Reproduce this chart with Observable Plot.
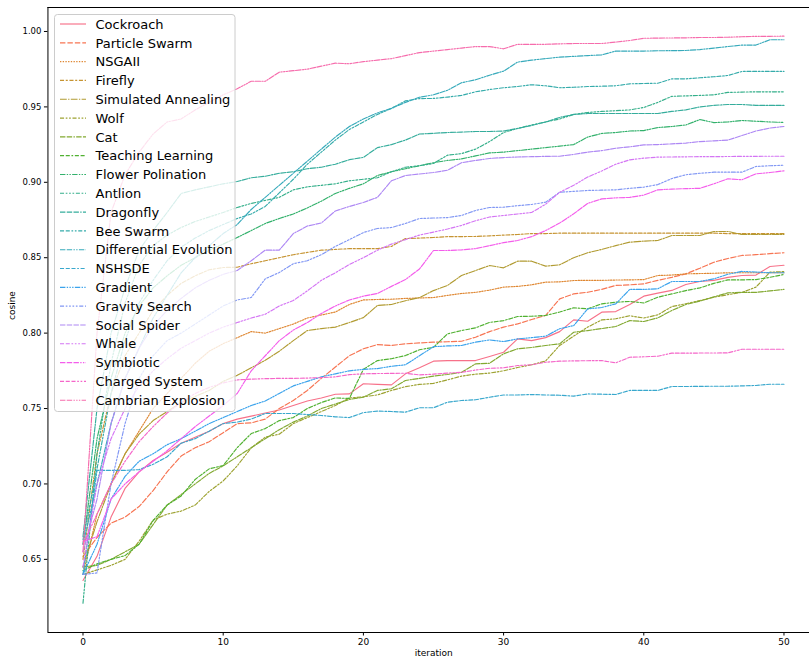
<!DOCTYPE html>
<html><head><meta charset="utf-8">
<script src="https://cdn.jsdelivr.net/npm/d3@7"></script>
<script src="https://cdn.jsdelivr.net/npm/@observablehq/plot@0.6"></script>
<style>
body{margin:0;background:#fff;}
#wrap{position:relative;width:809px;height:663px;font-family:"DejaVu Sans",sans-serif;}
#wrap svg{position:absolute;left:0;top:0;}
</style></head><body><div id="wrap"></div>
<script>
const iterations = [0,1,2,3,4,5,6,7,8,9,10,11,12,13,14,15,16,17,18,19,20,21,22,23,24,25,26,27,28,29,30,31,32,33,34,35,36,37,38,39,40,41,42,43,44,45,46,47,48,49,50];

const cockroach = [0.636,0.652,0.678,0.697,0.708,0.7155,0.721,0.727,0.731,0.735,0.740,0.743,0.745,0.747,0.749,0.752,0.755,0.757,0.7595,0.7597,0.7664,0.7660,0.7657,0.773,0.777,0.7814,0.7818,0.7818,0.7818,0.7845,0.7873,0.7962,0.795,0.797,0.801,0.8088,0.8079,0.8139,0.8143,0.819,0.8245,0.8265,0.8283,0.8322,0.8342,0.835,0.837,0.8382,0.8385,0.8442,0.845];
const particleSwarm = [0.652,0.6645,0.674,0.678,0.685,0.6956,0.708,0.7185,0.724,0.728,0.734,0.740,0.7405,0.743,0.750,0.7553,0.762,0.770,0.7775,0.785,0.7896,0.7924,0.7918,0.7929,0.7935,0.794,0.7943,0.7946,0.7973,0.801,0.804,0.8061,0.809,0.8117,0.8227,0.826,0.8271,0.829,0.8316,0.832,0.8327,0.835,0.837,0.8393,0.843,0.847,0.8495,0.8515,0.852,0.8527,0.8533];
const nsgaii = [0.640,0.680,0.700,0.720,0.735,0.750,0.760,0.770,0.780,0.788,0.793,0.797,0.801,0.800,0.803,0.806,0.810,0.812,0.814,0.819,0.822,0.8223,0.8225,0.823,0.8233,0.8236,0.825,0.8263,0.827,0.8285,0.8305,0.831,0.832,0.8338,0.834,0.8349,0.835,0.835,0.8352,0.8353,0.8355,0.8382,0.8385,0.8393,0.8395,0.8397,0.840,0.840,0.840,0.840,0.840];
const firefly = [0.650,0.720,0.760,0.785,0.800,0.815,0.825,0.833,0.838,0.842,0.8435,0.8437,0.846,0.848,0.850,0.852,0.8535,0.855,0.8555,0.856,0.856,0.856,0.8575,0.8627,0.863,0.8634,0.864,0.864,0.8641,0.8645,0.865,0.8654,0.866,0.866,0.8663,0.8663,0.8663,0.8663,0.8663,0.8663,0.8663,0.8663,0.8663,0.8663,0.8663,0.8663,0.866,0.866,0.866,0.866,0.866];
const simulatedAnnealing = [0.645,0.675,0.700,0.720,0.733,0.742,0.748,0.754,0.758,0.762,0.768,0.772,0.777,0.782,0.788,0.795,0.8017,0.803,0.804,0.807,0.8103,0.8183,0.819,0.8215,0.8236,0.8282,0.8316,0.8382,0.8415,0.8448,0.8433,0.8477,0.8477,0.8444,0.8453,0.850,0.8533,0.8555,0.858,0.8603,0.861,0.8614,0.8647,0.8647,0.8647,0.8674,0.8674,0.8654,0.8654,0.8654,0.8655];
const wolf = [0.640,0.643,0.646,0.650,0.662,0.676,0.680,0.682,0.686,0.695,0.702,0.712,0.724,0.731,0.733,0.740,0.744,0.748,0.752,0.757,0.7578,0.759,0.762,0.7645,0.766,0.7667,0.769,0.7715,0.7728,0.7735,0.775,0.7772,0.779,0.7815,0.7918,0.798,0.804,0.8088,0.8095,0.8115,0.810,0.8121,0.8176,0.8195,0.8216,0.8238,0.8255,0.827,0.8305,0.8404,0.8408];
const cat = [0.645,0.646,0.650,0.655,0.660,0.673,0.686,0.693,0.700,0.707,0.712,0.718,0.724,0.730,0.736,0.741,0.745,0.750,0.753,0.756,0.7575,0.762,0.7631,0.7686,0.770,0.7715,0.7726,0.774,0.7796,0.780,0.7863,0.7896,0.7905,0.7918,0.7929,0.8006,0.8017,0.803,0.8044,0.8083,0.8077,0.8101,0.815,0.819,0.8212,0.824,0.8267,0.827,0.827,0.828,0.829];
const teachingLearning = [0.6426,0.647,0.650,0.6525,0.660,0.6757,0.686,0.692,0.703,0.710,0.7122,0.7241,0.7334,0.7367,0.742,0.744,0.750,0.754,0.757,0.7567,0.776,0.7818,0.783,0.7851,0.789,0.7906,0.7995,0.8017,0.8035,0.8071,0.8083,0.811,0.8112,0.8117,0.814,0.8168,0.8161,0.8194,0.8205,0.821,0.820,0.8238,0.826,0.8282,0.830,0.833,0.8353,0.8353,0.8355,0.837,0.8389];
const flowerPolination = [0.660,0.730,0.770,0.800,0.818,0.830,0.838,0.845,0.850,0.855,0.859,0.8634,0.868,0.8727,0.876,0.879,0.883,0.8875,0.8926,0.896,0.899,0.9045,0.907,0.909,0.911,0.913,0.9145,0.9155,0.9175,0.9195,0.920,0.921,0.922,0.923,0.924,0.925,0.930,0.9324,0.933,0.934,0.9343,0.9363,0.937,0.938,0.9416,0.9396,0.940,0.941,0.9405,0.940,0.9397];
const antlion = [0.621,0.720,0.780,0.820,0.845,0.858,0.865,0.870,0.874,0.877,0.880,0.8833,0.886,0.888,0.890,0.895,0.897,0.898,0.899,0.901,0.902,0.903,0.907,0.910,0.911,0.9125,0.918,0.919,0.922,0.927,0.933,0.9357,0.938,0.940,0.942,0.945,0.9463,0.947,0.9475,0.948,0.9496,0.953,0.957,0.9573,0.9576,0.958,0.9596,0.9598,0.960,0.960,0.960];
const dragonfly = [0.665,0.750,0.800,0.830,0.855,0.868,0.880,0.8926,0.895,0.897,0.899,0.9005,0.903,0.904,0.906,0.907,0.909,0.910,0.912,0.915,0.9165,0.923,0.925,0.928,0.932,0.9325,0.933,0.9333,0.9337,0.9337,0.934,0.9357,0.9377,0.940,0.943,0.945,0.9456,0.9456,0.9456,0.9456,0.9456,0.9456,0.947,0.948,0.950,0.951,0.9516,0.9516,0.951,0.951,0.951];
const beeSwarm = [0.663,0.710,0.760,0.795,0.820,0.835,0.848,0.857,0.863,0.868,0.872,0.876,0.879,0.884,0.893,0.902,0.912,0.920,0.928,0.935,0.940,0.945,0.949,0.954,0.9555,0.9556,0.9565,0.9576,0.960,0.9615,0.9627,0.9635,0.9647,0.964,0.9627,0.963,0.9635,0.9637,0.964,0.9653,0.9655,0.9657,0.9686,0.9686,0.9693,0.970,0.9708,0.9735,0.9735,0.9735,0.9735];
const differentialEvolution = [0.660,0.700,0.740,0.770,0.790,0.810,0.825,0.840,0.850,0.858,0.866,0.872,0.882,0.890,0.898,0.906,0.914,0.922,0.930,0.937,0.942,0.946,0.949,0.953,0.9564,0.958,0.961,0.966,0.968,0.971,0.9737,0.9797,0.981,0.982,0.983,0.9835,0.984,0.9845,0.987,0.987,0.987,0.9872,0.9873,0.9874,0.988,0.989,0.990,0.991,0.991,0.9945,0.9945];
const nshsde = [0.640,0.709,0.709,0.709,0.7095,0.713,0.718,0.727,0.730,0.735,0.740,0.741,0.743,0.7467,0.7467,0.7467,0.746,0.7454,0.7445,0.744,0.7473,0.7483,0.748,0.7476,0.7505,0.7505,0.7542,0.7553,0.7558,0.7575,0.759,0.759,0.7593,0.759,0.7588,0.7582,0.7597,0.7595,0.7593,0.762,0.762,0.762,0.7646,0.7646,0.7647,0.7648,0.7648,0.765,0.7653,0.7661,0.7661];
const gradient = [0.640,0.660,0.690,0.705,0.715,0.720,0.726,0.730,0.735,0.740,0.744,0.748,0.752,0.755,0.760,0.765,0.768,0.771,0.773,0.775,0.776,0.7765,0.778,0.779,0.785,0.791,0.7915,0.7918,0.794,0.7955,0.7944,0.7962,0.797,0.798,0.8029,0.805,0.8161,0.817,0.8194,0.829,0.829,0.8294,0.8342,0.8342,0.8342,0.836,0.839,0.8409,0.8405,0.840,0.840];
const gravitySearch = [0.640,0.641,0.700,0.740,0.770,0.785,0.795,0.800,0.806,0.812,0.818,0.822,0.8236,0.836,0.8402,0.846,0.848,0.852,0.8575,0.862,0.8667,0.8694,0.870,0.8727,0.876,0.8763,0.8766,0.878,0.8813,0.8833,0.8835,0.8845,0.8853,0.8868,0.8934,0.894,0.8946,0.8948,0.895,0.896,0.8968,0.8985,0.9025,0.905,0.906,0.9067,0.9067,0.9067,0.9105,0.911,0.9113];
const socialSpider = [0.655,0.690,0.740,0.770,0.790,0.805,0.815,0.823,0.830,0.835,0.839,0.8415,0.848,0.855,0.855,0.866,0.871,0.873,0.881,0.884,0.8866,0.890,0.901,0.9045,0.9055,0.9065,0.908,0.913,0.9145,0.9158,0.9164,0.9168,0.917,0.9172,0.9173,0.9185,0.920,0.921,0.9226,0.9235,0.9248,0.925,0.9255,0.926,0.927,0.9275,0.928,0.931,0.934,0.936,0.937];
const whale = [0.645,0.700,0.730,0.750,0.765,0.775,0.783,0.790,0.795,0.800,0.804,0.807,0.810,0.8125,0.818,0.8216,0.828,0.835,0.840,0.8455,0.850,0.855,0.859,0.862,0.865,0.867,0.869,0.8714,0.8745,0.877,0.878,0.879,0.880,0.8855,0.8934,0.898,0.9035,0.9075,0.912,0.9149,0.916,0.9167,0.9168,0.9169,0.917,0.917,0.9171,0.9172,0.9172,0.9173,0.9173];
const symbiotic = [0.662,0.665,0.690,0.700,0.708,0.715,0.722,0.730,0.738,0.745,0.752,0.760,0.775,0.785,0.795,0.802,0.807,0.813,0.818,0.822,0.8245,0.8263,0.831,0.8355,0.8425,0.8548,0.8548,0.8552,0.856,0.858,0.860,0.8614,0.864,0.868,0.873,0.8791,0.886,0.889,0.8897,0.890,0.8915,0.895,0.8955,0.8958,0.896,0.899,0.9023,0.9017,0.9056,0.9065,0.9076];
const chargedSystem = [0.660,0.680,0.700,0.715,0.728,0.738,0.747,0.754,0.760,0.764,0.767,0.769,0.7695,0.7698,0.770,0.770,0.7702,0.7705,0.771,0.7725,0.773,0.7732,0.7733,0.7734,0.7723,0.7728,0.7735,0.774,0.7755,0.7767,0.777,0.7785,0.779,0.7807,0.7814,0.7816,0.7817,0.7818,0.7803,0.784,0.7843,0.7847,0.7867,0.7867,0.7868,0.7868,0.7869,0.7893,0.7893,0.7893,0.7893];
const cambrianExplosion = [0.655,0.800,0.880,0.905,0.920,0.932,0.940,0.942,0.948,0.953,0.958,0.962,0.967,0.967,0.973,0.974,0.975,0.977,0.979,0.9786,0.980,0.981,0.982,0.984,0.986,0.987,0.988,0.989,0.990,0.990,0.9885,0.9915,0.9915,0.9915,0.9918,0.992,0.992,0.992,0.993,0.994,0.9955,0.9956,0.9957,0.9958,0.996,0.996,0.9962,0.9965,0.9968,0.9968,0.9969];

const seriesNames = ["Cockroach","Particle Swarm","NSGAII","Firefly","Simulated Annealing","Wolf","Cat","Teaching Learning","Flower Polination","Antlion","Dragonfly","Bee Swarm","Differential Evolution","NSHSDE","Gradient","Gravity Search","Social Spider","Whale","Symbiotic","Charged System","Cambrian Explosion"];
const seriesValues = [cockroach,particleSwarm,nsgaii,firefly,simulatedAnnealing,wolf,cat,teachingLearning,flowerPolination,antlion,dragonfly,beeSwarm,differentialEvolution,nshsde,gradient,gravitySearch,socialSpider,whale,symbiotic,chargedSystem,cambrianExplosion];
const xTicks = [0,10,20,30,40,50];
const yTicks = [0.65,0.70,0.75,0.80,0.85,0.90,0.95,1.00];

// seaborn-style dash patterns (in line-width units)
const dashPatterns = [
  [],[4,1.5],[1,1],[3,1.25,1.5,1.25],[5,1,1,1],
  [3,1.25,1.25,1.25,1.25,1.25],[4,1,4,1,1,1],[3,1.25,3,1.25,1.25,1.25],[4,1,1,1,1,1],
  [3,1.25,1.25,1.25,1.25,1.25,1.25,1.25],[4,1,4,1,4,1,1,1],[3,1.25,3,1.25,1.25,1.25,1.25,1.25],[4,1,4,1,1,1,1,1],[3,1.25,3,1.25,3,1.25,1.25,1.25],[4,1,1,1,1,1,1,1],
  [3,1.25,1.25,1.25,1.25,1.25,1.25,1.25,1.25,1.25],[4,1,4,1,4,1,4,1,1,1],[3,1.25,3,1.25,1.25,1.25,1.25,1.25,1.25,1.25],[4,1,4,1,4,1,1,1,1,1],[3,1.25,3,1.25,3,1.25,1.25,1.25,1.25,1.25],[4,1,4,1,1,1,1,1,1,1]
];

// HUSL (seaborn husl_palette) colour conversion
function huslToHex(h, s, l) {
  const m = [[3.2406,-1.5372,-0.4986],[-0.9689,1.8758,0.0415],[0.0557,-0.2040,1.0570]];
  const refU = 0.19784, refV = 0.46834, labE = 0.008856, labK = 903.3;
  const hrad = h / 360 * 2 * Math.PI, sinH = Math.sin(hrad), cosH = Math.cos(hrad);
  const sub1 = Math.pow(l + 16, 3) / 1560896;
  const sub2 = sub1 > labE ? sub1 : l / labK;
  let maxC = Infinity;
  for (const [m1, m2, m3] of m) {
    const top = (0.99915 * m1 + 1.05122 * m2 + 1.14460 * m3) * sub2;
    const rb = 0.86330 * m3 - 0.17266 * m2;
    const lb = 0.12949 * m3 - 0.38848 * m1;
    const bottom = (rb * sinH + lb * cosH) * sub2;
    for (const t of [0, 1]) {
      const C = l * (top - 1.05122 * t) / (bottom + 0.17266 * sinH * t);
      if (C > 0 && C < maxC) maxC = C;
    }
  }
  const C = maxC / 100 * s;
  const U = cosH * C, V = sinH * C;
  const t = (l + 16) / 116;
  const Y = Math.pow(t, 3) > labE ? Math.pow(t, 3) : (116 * t - 16) / labK;
  const vu = U / (13 * l) + refU, vv = V / (13 * l) + refV;
  const X = -(9 * Y * vu) / ((vu - 4) * vv - vu * vv);
  const Z = (9 * Y - 15 * vv * Y - vv * X) / (3 * vv);
  const rgb = m.map(([a, b, c]) => {
    let v = a * X + b * Y + c * Z;
    v = v <= 0.0031308 ? 12.92 * v : 1.055 * Math.pow(v, 1 / 2.4) - 0.055;
    return Math.max(0, Math.min(1, v));
  });
  return d3.rgb(rgb[0] * 255, rgb[1] * 255, rgb[2] * 255).formatHex();
}
const n = seriesNames.length;
const colors = seriesNames.map((_, i) => huslToHex(((i / n) + 0.01) % 1 * 359, 0.9 * 99, 0.65 * 99));

const LW = 1.15, UNIT = 1.35;
const dashStr = k => dashPatterns[k].length ? dashPatterns[k].map(d => d * UNIT).join(",") : "none";

const xDomain = [-2.5, 51.82];
const yDomain = [0.6015, 1.0159];

const marks = [];
seriesValues.forEach((vals, k) => {
  const rows = iterations.map((it, i) => ({iteration: it, cosine: vals[i]}));
  marks.push(Plot.line(rows, {x: "iteration", y: "cosine", stroke: colors[k], strokeWidth: LW, strokeDasharray: dashStr(k), strokeLinejoin: "round"}));
});
marks.push(Plot.ruleX([xDomain[0]], {stroke: "#000", strokeWidth: 1}));
marks.push(Plot.ruleY([yDomain[0], yDomain[1]], {stroke: "#000", strokeWidth: 1}));
marks.push(Plot.axisX({ticks: xTicks, tickSize: 3.5, tickPadding: 3, label: null, fontSize: 9}));
marks.push(Plot.axisY({ticks: yTicks, tickFormat: d3.format(".2f"), tickSize: 3.5, tickPadding: 3, label: null, fontSize: 8.5}));
marks.push(Plot.text(["iteration"], {text: d => d, frameAnchor: "bottom", dx: 5, dy: 23, fontSize: 9, fill: "#000"}));
marks.push(Plot.text(["cosine"], {text: d => d, frameAnchor: "left", dx: -35.5, rotate: -90, fontSize: 9, fill: "#000"}));

const chart = Plot.plot({
  width: 809, height: 663,
  marginLeft: 47.45, marginRight: 0, marginTop: 7, marginBottom: 31,
  x: {type: "linear", domain: xDomain},
  y: {type: "linear", domain: yDomain},
  style: {fontFamily: "DejaVu Sans, sans-serif", background: "#fff", color: "#000", overflow: "visible"},
  marks
});
const wrap = document.getElementById("wrap");
wrap.appendChild(chart);

// legend overlay
const leg = d3.select(wrap).append("svg")
  .attr("width", 809).attr("height", 663)
  .style("pointer-events", "none");
leg.append("rect").attr("x", 54.5).attr("y", 14.5).attr("width", 180.5).attr("height", 397)
  .attr("rx", 3).attr("fill", "#fff").attr("fill-opacity", 0.8).attr("stroke", "#cccccc").attr("stroke-width", 1);
seriesNames.forEach((name, k) => {
  const y = 24 + k * 18.81;
  leg.append("line").attr("x1", 60).attr("x2", 86).attr("y1", y).attr("y2", y)
    .attr("stroke", colors[k]).attr("stroke-width", LW).attr("stroke-dasharray", dashStr(k));
  leg.append("text").attr("x", 95.5).attr("y", y + 4.7).text(name)
    .attr("font-family", "DejaVu Sans, sans-serif").attr("font-size", 13).attr("fill", "#000");
});
</script></body></html>
